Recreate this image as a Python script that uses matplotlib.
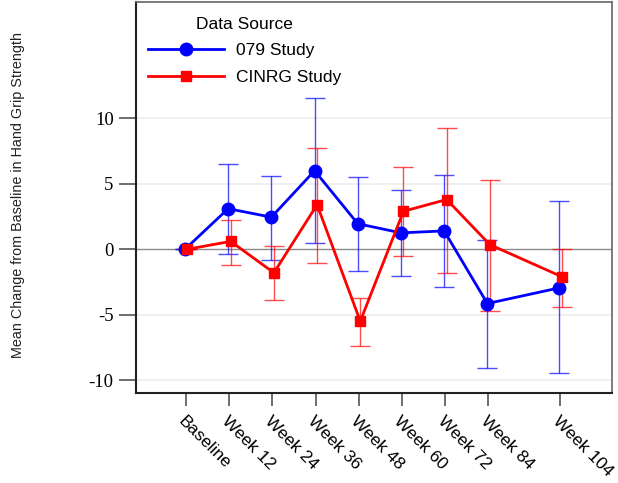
import matplotlib
matplotlib.use("Agg")
import matplotlib.pyplot as plt
import matplotlib.transforms as mtransforms
import numpy as np

weeks = [0, 12, 24, 36, 48, 60, 72, 84, 104]
tick_labels = ["Baseline", "Week 12", "Week 24", "Week 36", "Week 48",
               "Week 60", "Week 72", "Week 84", "Week 104"]

s079_mean = [0.0, 3.1, 2.45, 6.0, 1.95, 1.25, 1.4, -4.15, -2.95]
s079_upper = [0.0, 6.55, 5.6, 11.55, 5.55, 4.55, 5.65, 0.7, 3.65]
s079_lower = [0.0, -0.4, -0.8, 0.5, -1.65, -2.05, -2.9, -9.05, -9.45]

cinrg_mean = [0.0, 0.6, -1.8, 3.4, -5.5, 2.9, 3.8, 0.35, -2.1]
cinrg_upper = [0.0, 2.25, 0.25, 7.7, -3.75, 6.25, 9.25, 5.3, 0.05]
cinrg_lower = [0.0, -1.2, -3.9, -1.05, -7.4, -0.5, -1.85, -4.7, -4.4]

fig = plt.figure(figsize=(6.18, 4.83), dpi=100)
ax = fig.add_axes([0.220, 0.186, 0.770, 0.810])

def shifted(dx_px):
    return ax.transData + mtransforms.ScaledTranslation(dx_px / 100.0, 0, fig.dpi_scale_trans)

# grid and reference line
for yv in [-10, -5, 5, 10]:
    ax.axhline(yv, color="#eeeeee", lw=1.2, zorder=0)
ax.axhline(0, color="#8a8a8a", lw=1.0, zorder=1)

series = [
    ("079 Study", s079_mean, s079_upper, s079_lower, "#0000ff", "o", 9, -1.0),
    ("CINRG Study", cinrg_mean, cinrg_upper, cinrg_lower, "#ff0000", "s", 7.5, 1.5),
]
handles = []
for name, m, up, lo, col, mk, ms, dx in series:
    m = np.array(m); up = np.array(up); lo = np.array(lo)
    tr = shifted(dx)
    ax.errorbar(weeks, m, yerr=[m - lo, up - m], fmt="none", ecolor=col,
                elinewidth=1.0, capsize=7.5, capthick=1.0, alpha=0.7,
                transform=tr, zorder=2)
    h, = ax.plot(weeks, m, color=col, lw=2.0, marker=mk, markersize=ms,
                 transform=tr, zorder=3, label=name)
    handles.append(h)

ax.set_xlim(-13.9, 118.3)
ax.set_ylim(-11.0, 18.9)
ax.set_yticks([-10, -5, 0, 5, 10])
ax.set_yticklabels(["-10", "-5", "0", "5", "10"], family="Liberation Serif", fontsize=13.5)
ax.set_xticks(weeks)
ax.set_xticklabels(tick_labels, rotation=-45, ha="left", va="top",
                   rotation_mode="anchor", family="Liberation Sans", fontsize=12.5)
ax.tick_params(axis="x", length=9, width=1.2, color="#555555", pad=6, direction="out")
ax.tick_params(axis="y", length=12, width=1.2, color="#555555", pad=4, direction="out")

for side in ["top", "right"]:
    ax.spines[side].set_color("#666666")
    ax.spines[side].set_linewidth(1.2)
for side in ["left", "bottom"]:
    ax.spines[side].set_color("#222222")
    ax.spines[side].set_linewidth(1.5)

fig.text(0.029, 0.597, "Mean Change from Baseline in Hand Grip Strength",
         rotation=90, ha="center", va="center", family="Liberation Sans",
         fontsize=10.4, color="#222222")

leg = ax.legend(handles=handles, title="Data Source", loc="upper left",
                bbox_to_anchor=(0.025, 0.962), frameon=False, borderpad=0,
                borderaxespad=0, handlelength=4.4, handletextpad=0.7,
                labelspacing=0.68, prop={"family": "Liberation Sans", "size": 12.5},
                title_fontproperties={"family": "Liberation Sans", "size": 12.5})
leg._legend_box.sep = 8

fig.savefig("out.png", dpi=100)
